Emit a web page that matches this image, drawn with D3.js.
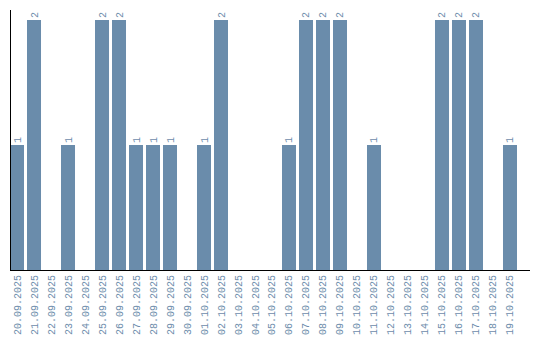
<!DOCTYPE html>
<html>
<head>
<meta charset="utf-8">
<script src="https://cdn.jsdelivr.net/npm/d3@7"></script>
<style>
  body { margin: 0; background: #fff; }
  text { font-family: "Liberation Mono", monospace; }
</style>
</head>
<body>
<svg id="chart" width="540" height="340"></svg>
<script>
const dates = ["20.09.2025","21.09.2025","22.09.2025","23.09.2025","24.09.2025","25.09.2025",
  "26.09.2025","27.09.2025","28.09.2025","29.09.2025","30.09.2025","01.10.2025","02.10.2025",
  "03.10.2025","04.10.2025","05.10.2025","06.10.2025","07.10.2025","08.10.2025","09.10.2025",
  "10.10.2025","11.10.2025","12.10.2025","13.10.2025","14.10.2025","15.10.2025","16.10.2025",
  "17.10.2025","18.10.2025","19.10.2025"];
const counts = [1,2,0,1,0,2,2,1,1,1,0,1,2,0,0,0,1,2,2,2,0,1,0,0,0,2,2,2,0,1];

const data = dates.map((d, i) => ({ date: d, count: counts[i] }));
const barColor = "#6a8cab";
const textColor = "#6d8cab";

const svg = d3.select("#chart");
const x = d3.scaleBand().domain(dates).range([10, 517]).paddingInner(0.176).paddingOuter(0);
const y = d3.scaleLinear().domain([0, 2]).range([270, 20]);

svg.selectAll(".bar")
  .data(data.filter(d => d.count > 0))
  .enter().append("rect")
  .attr("class", "bar")
  .attr("x", d => x(d.date))
  .attr("y", d => y(d.count))
  .attr("width", x.bandwidth())
  .attr("height", d => y(0) - y(d.count))
  .attr("fill", barColor);

svg.selectAll(".label")
  .data(data.filter(d => d.count > 0))
  .enter().append("text")
  .attr("class", "label")
  .attr("transform", d => `translate(${x(d.date) + x.bandwidth() / 2 + 3.5},${y(d.count) - 2}) rotate(-90)`)
  .style("font-size", "10px")
  .attr("fill", textColor)
  .text(d => d.count);

// axes
svg.append("line").attr("x1", 10.5).attr("x2", 10.5).attr("y1", 10).attr("y2", 270).attr("stroke", "#000");
svg.append("line").attr("x1", 10).attr("x2", 530).attr("y1", 270.5).attr("y2", 270.5).attr("stroke", "#000");

svg.selectAll(".tick-label")
  .data(dates)
  .enter().append("text")
  .attr("class", "tick-label")
  .attr("transform", d => `translate(${x(d) + x.bandwidth() / 2 + 3.5},275) rotate(-90)`)
  .attr("text-anchor", "end")
  .style("font-size", "10px")
  .attr("fill", textColor)
  .text(d => d);
</script>
</body>
</html>
